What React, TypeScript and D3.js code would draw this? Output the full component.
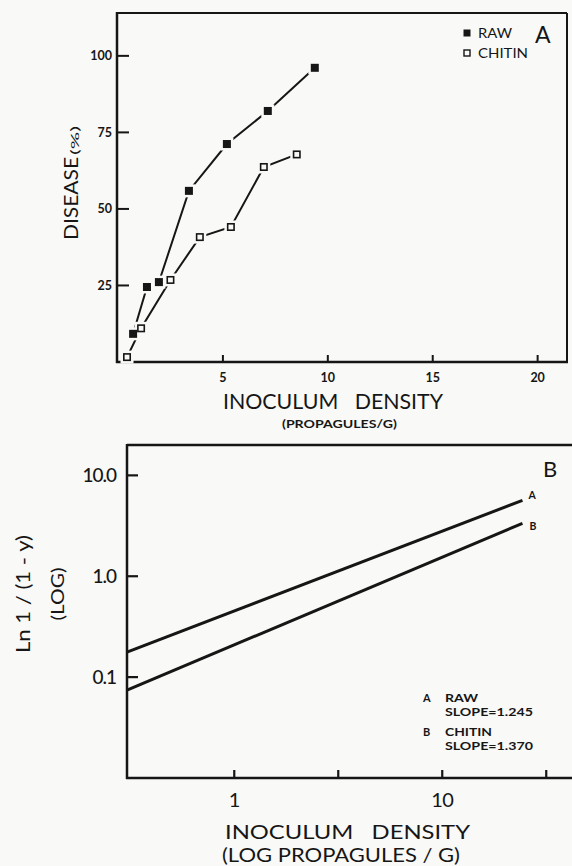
import React from "react";
import * as d3 from "d3";

// ---------- Panel A data ----------
const rawX = [0.72, 1.38, 1.95, 3.38, 5.19, 7.14, 9.38];
const rawY = [9.2, 24.5, 26.1, 55.9, 71.2, 82.0, 96.1];
const chitinX = [0.43, 1.1, 2.5, 3.9, 5.38, 6.95, 8.52];
const chitinY = [1.6, 11.0, 26.8, 40.8, 44.1, 63.7, 67.8];
const aXTicks = [5, 10, 15, 20];
const aYTicks = [25, 50, 75, 100];

// ---------- Panel B data ----------
const fitX = [0.305, 24.3];
const fitRawY = [0.177, 5.65];
const fitChitinY = [0.0743, 3.35];
const bXTicks = [1, 3.1623, 10, 31.623];
const bXTickLabels = ["1", "", "10", ""];
const bYTicks = [0.1, 1, 10];
const bYTickLabels = ["0.1", "1.0", "10.0"];

const BG = "#f9f9f7";
const INK = "#161616";
const FONT = "Lato, 'Open Sans', 'DejaVu Sans', sans-serif";

export default function App() {
  // Panel A scales
  const ax = d3.scaleLinear().domain([0, 21.4]).range([118, 567]);
  const ay = d3.scaleLinear().domain([0, 114]).range([362, 13]);
  const aLine = d3
    .line<[number, number]>()
    .x((d) => ax(d[0]))
    .y((d) => ay(d[1]));
  const rawPts: [number, number][] = rawX.map((x, i) => [x, rawY[i]]);
  const chitinPts: [number, number][] = chitinX.map((x, i) => [x, chitinY[i]]);

  // Panel B scales
  const bx = d3.scaleLog().domain([0.305, 43]).range([127, 574]);
  const by = d3.scaleLog().domain([0.01, 20]).range([778, 445]);
  const bLine = d3
    .line<[number, number]>()
    .x((d) => bx(d[0]))
    .y((d) => by(d[1]));
  const fitRaw: [number, number][] = fitX.map((x, i) => [x, fitRawY[i]]);
  const fitChitin: [number, number][] = fitX.map((x, i) => [x, fitChitinY[i]]);

  const ms = 8;

  return (
    <svg
      width={572}
      height={866}
      style={{ position: "absolute", left: 0, top: 0 }}
      fontFamily={FONT}
    >
      <rect x={0} y={0} width={572} height={866} fill={BG} />

      {/* ================= Panel A ================= */}
      <g>
        <line x1={117} y1={13} x2={567} y2={13} stroke={INK} strokeWidth={2} />
        <line x1={567} y1={13} x2={567} y2={363} stroke={INK} strokeWidth={2} />
        <line x1={117} y1={12} x2={117} y2={363} stroke={INK} strokeWidth={2.5} />
        <line x1={116} y1={362} x2={568} y2={362} stroke={INK} strokeWidth={2.5} />

        {aYTicks.map((t) => (
          <g key={"ay" + t}>
            <line x1={117} x2={129} y1={ay(t)} y2={ay(t)} stroke={INK} strokeWidth={2} />
            <text
              x={112}
              y={ay(t)}
              dy="0.35em"
              textAnchor="end"
              fontSize={12.5}
              fontWeight={700}
              fill={INK}
            >
              {t}
            </text>
          </g>
        ))}
        {aXTicks.map((t) => (
          <g key={"ax" + t}>
            <line x1={ax(t)} x2={ax(t)} y1={362} y2={355} stroke={INK} strokeWidth={2} />
            <text
              x={ax(t)}
              y={382}
              textAnchor="middle"
              fontSize={12.5}
              fontWeight={700}
              fill={INK}
            >
              {t}
            </text>
          </g>
        ))}

        <path d={aLine(rawPts) || ""} fill="none" stroke={INK} strokeWidth={2} />
        <path d={aLine(chitinPts) || ""} fill="none" stroke={INK} strokeWidth={2} />

        {[...rawPts, ...chitinPts].map((p, i) => (
          <rect
            key={"h" + i}
            x={ax(p[0]) - ms / 2 - 2.5}
            y={ay(p[1]) - ms / 2 - 2.5}
            width={ms + 5}
            height={ms + 5}
            fill={BG}
          />
        ))}
        {rawPts.map((p, i) => (
          <rect
            key={"r" + i}
            x={ax(p[0]) - ms / 2}
            y={ay(p[1]) - ms / 2}
            width={ms}
            height={ms}
            fill={INK}
          />
        ))}
        {chitinPts.map((p, i) => (
          <rect
            key={"c" + i}
            x={ax(p[0]) - ms / 2 + 0.8}
            y={ay(p[1]) - ms / 2 + 0.8}
            width={ms - 1.6}
            height={ms - 1.6}
            fill={BG}
            stroke={INK}
            strokeWidth={1.6}
          />
        ))}

        {/* legend */}
        <rect x={463.5} y={29.5} width={7} height={7} fill={INK} />
        <text x={478} y={38} fontSize={14} fill={INK} textLength={34} lengthAdjust="spacingAndGlyphs">
          RAW
        </text>
        <rect x={464} y={50} width={6} height={6} fill={BG} stroke={INK} strokeWidth={1.4} />
        <text x={478} y={58} fontSize={14} fill={INK} textLength={50} lengthAdjust="spacingAndGlyphs">
          CHITIN
        </text>
        <text x={535} y={43} fontSize={23} fill={INK}>
          A
        </text>

        {/* axis titles */}
        <text
          transform="translate(78,240) rotate(-90)"
          fontSize={19}
          fill={INK}
          textLength={83}
          lengthAdjust="spacingAndGlyphs"
        >
          DISEASE
        </text>
        <text
          transform="translate(79,155) rotate(-90)"
          fontSize={12}
          fill={INK}
          textLength={29}
          lengthAdjust="spacingAndGlyphs"
        >
          (%)
        </text>
        <text
          x={223}
          y={409}
          fontSize={21}
          fill={INK}
          textLength={220}
          lengthAdjust="spacingAndGlyphs"
          style={{ whiteSpace: "pre" }}
        >
          {"INOCULUM   DENSITY"}
        </text>
        <text
          x={282}
          y={428}
          fontSize={11.5}
          fontWeight={700}
          fill={INK}
          textLength={115}
          lengthAdjust="spacingAndGlyphs"
        >
          (PROPAGULES/G)
        </text>
      </g>

      {/* ================= Panel B ================= */}
      <g>
        <line x1={127} y1={445} x2={572} y2={445} stroke={INK} strokeWidth={2.5} />
        <line x1={127} y1={444} x2={127} y2={779} stroke={INK} strokeWidth={2.5} />
        <line x1={126} y1={778} x2={572} y2={778} stroke={INK} strokeWidth={2.5} />

        {bYTicks.map((t, i) => (
          <g key={"by" + t}>
            <line x1={127} x2={138} y1={by(t)} y2={by(t)} stroke={INK} strokeWidth={2.2} />
            <text
              x={116}
              y={by(t)}
              dy="0.36em"
              textAnchor="end"
              fontSize={19}
              fontWeight={500}
              fill={INK}
              letterSpacing={-1}
            >
              {bYTickLabels[i]}
            </text>
          </g>
        ))}
        {bXTicks.map((t, i) => (
          <g key={"bx" + t}>
            <line x1={bx(t)} x2={bx(t)} y1={778} y2={770} stroke={INK} strokeWidth={2.2} />
            {bXTickLabels[i] && (
              <text
                x={bx(t)}
                y={807}
                textAnchor="middle"
                fontSize={20}
                fill={INK}
                letterSpacing={-0.5}
              >
                {bXTickLabels[i]}
              </text>
            )}
          </g>
        ))}

        <path d={bLine(fitRaw) || ""} fill="none" stroke={INK} strokeWidth={3} />
        <path d={bLine(fitChitin) || ""} fill="none" stroke={INK} strokeWidth={3} />
        <text x={bx(fitX[1]) + 6} y={by(fitRawY[1]) - 1} fontSize={10.5} fontWeight={700} fill={INK}>
          A
        </text>
        <text x={bx(fitX[1]) + 7} y={by(fitChitinY[1]) + 7} fontSize={10.5} fontWeight={700} fill={INK}>
          B
        </text>

        <text x={543} y={477} fontSize={22} fill={INK}>
          B
        </text>

        {/* annotation */}
        <g fontSize={11} fill={INK} fontWeight={700}>
          <text x={423} y={702}>A</text>
          <text x={445} y={702} textLength={33} lengthAdjust="spacingAndGlyphs">RAW</text>
          <text x={445} y={716} textLength={88} lengthAdjust="spacingAndGlyphs">SLOPE=1.245</text>
          <text x={423} y={736}>B</text>
          <text x={445} y={736} textLength={47} lengthAdjust="spacingAndGlyphs">CHITIN</text>
          <text x={445} y={750} textLength={88} lengthAdjust="spacingAndGlyphs">SLOPE=1.370</text>
        </g>

        {/* axis titles */}
        <text
          transform="translate(30,594) rotate(-90)"
          textAnchor="middle"
          fontSize={19}
          fill={INK}
          textLength={118}
          lengthAdjust="spacingAndGlyphs"
        >
          Ln 1 / (1 - y)
        </text>
        <text
          transform="translate(64,594) rotate(-90)"
          textAnchor="middle"
          fontSize={17}
          fill={INK}
          textLength={53}
          lengthAdjust="spacingAndGlyphs"
        >
          (LOG)
        </text>
        <text
          x={225}
          y={839}
          fontSize={18.5}
          fill={INK}
          textLength={245}
          lengthAdjust="spacingAndGlyphs"
          style={{ whiteSpace: "pre" }}
        >
          {"INOCULUM   DENSITY"}
        </text>
        <text
          x={222}
          y={862}
          fontSize={18.5}
          fill={INK}
          textLength={238}
          lengthAdjust="spacingAndGlyphs"
        >
          (LOG PROPAGULES / G)
        </text>
      </g>
    </svg>
  );
}
